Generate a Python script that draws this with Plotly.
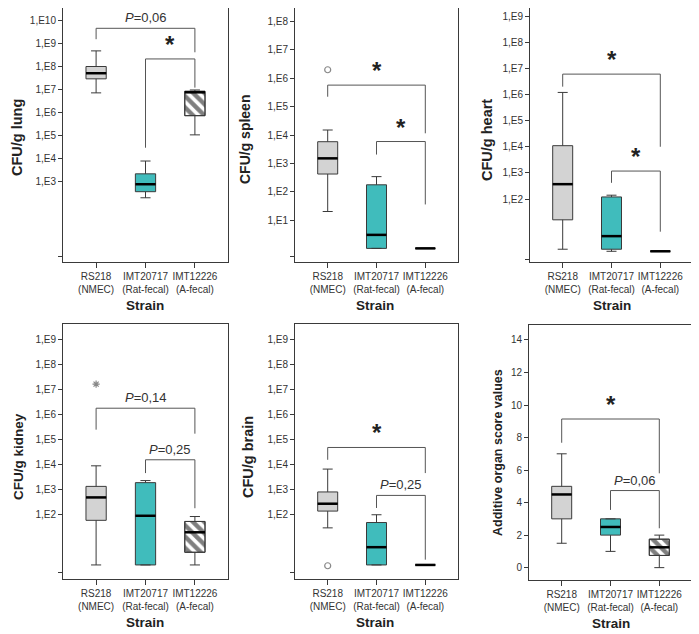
import plotly.graph_objects as go

# The page body adds an 8 px margin, so the figure is drawn 8 px in and
# all reference pixel positions are shifted by OFF.
OFF = 8
W, H = 699 - OFF, 634 - OFF
FONT = "Liberation Sans, Arial, sans-serif"

# ---------------- data ----------------
strain_labels = ["RS218<br>(NMEC)", "IMT20717<br>(Rat-fecal)", "IMT12226<br>(A-fecal)"]
box_colors = ["#d3d3d3", "#40bcbc", "white"]  # third group is hatched

# five-number summaries: [lower whisker, Q1, median, Q3, upper whisker]
lung = [[7.1e6, 2.9e7, 5.1e7, 1.0e8, 4.8e8],
        [190, 350, 740, 2100, 7600],
        [1.05e5, 7.2e5, 7.5e6, 8.3e6, 9.5e6]]
spleen = [[20, 420, 1500, 5800, 15000],
          [1, 1, 3, 175, 340],
          [1, 1, 1, 1, 1]]
heart = [[1.2, 16, 370, 11000, 1.2e6],
         [1, 1.2, 3.8, 120, 140],
         [1, 1, 1, 1, 1]]
kidney = [[1, 60, 490, 1350, 8900],
          [1, 1, 91, 1900, 2300],
          [1, 3.2, 20, 54, 85]]
brain = [[30, 140, 275, 810, 6600],
         [1, 1, 5.1, 49, 100],
         [1, 1, 1, 1, 1]]
score = [[1.5, 3, 4.5, 5, 7],
         [1, 2, 2.5, 3, 3],
         [0, 0.75, 1.25, 1.75, 2]]

# outliers: (group index, value, symbol)
spleen_out = [(0, 2e6, "circle-open")]
kidney_out = [(0, 1.6e7, "asterisk-open")]
brain_out = [(0, 0.93, "circle-open")]

# tick values / labels
lung_tv = [0.5, 1e3, 1e4, 1e5, 1e6, 1e7, 1e8, 1e9, 1e10]
lung_tt = ["", "1,E3", "1,E4", "1,E5", "1,E6", "1,E7", "1,E8", "1,E9", "1,E10"]
spleen_tv = [0.5, 1e1, 1e2, 1e3, 1e4, 1e5, 1e6, 1e7, 1e8]
spleen_tt = ["", "1,E1", "1,E2", "1,E3", "1,E4", "1,E5", "1,E6", "1,E7", "1,E8"]
e29_tv = [0.5, 1e2, 1e3, 1e4, 1e5, 1e6, 1e7, 1e8, 1e9]
e29_tt = ["", "1,E2", "1,E3", "1,E4", "1,E5", "1,E6", "1,E7", "1,E8", "1,E9"]
score_tv = [0, 2, 4, 6, 8, 10, 12, 14]
score_tt = ["0", "2", "4", "6", "8", "10", "12", "14"]

# significance brackets: (left group, right group, bar level, left end, right end, label)
# levels in log10 units for log panels
lung_br = [(0, 2, 9.665, 9.19, 8.62, "<i>P</i>=0,06"), (1, 2, 8.33, 4.46, 7.08, "*")]
spleen_br = [(0, 2, 5.76, 5.35, 4.06, "*"), (1, 2, 3.77, 3.31, 1.55, "*")]
heart_br = [(0, 2, 6.78, 6.30, 4.00, "*"), (1, 2, 3.07, 2.62, 0.75, "*")]
kidney_br = [(0, 2, 6.245, 5.39, 5.23, "<i>P</i>=0,14"), (1, 2, 4.19, 3.66, 2.26, "<i>P</i>=0,25")]
brain_br = [(0, 2, 4.68, 4.19, 3.66, "*"), (1, 2, 2.77, 2.27, 0.21, "<i>P</i>=0,25")]
score_br = [(0, 2, 9.14, 7.68, 5.80, "*"), (1, 2, 4.74, 3.55, 2.42, "<i>P</i>=0,06")]

panels = [
    dict(data=lung, out=[], tv=lung_tv, tt=lung_tt, log=True, rng=[-0.52, 10.55],
         px=(63, 228, 8, 262), title="CFU/g lung", tpos=(17, 138), tsize=14.5,
         spos=(145, 305), br=lung_br, hatch=True),
    dict(data=spleen, out=spleen_out, tv=spleen_tv, tt=spleen_tt, log=True, rng=[-0.48, 8.48],
         px=(295, 458, 8, 262), title="CFU/g spleen", tpos=(245, 140), tsize=14,
         spos=(375, 305), br=spleen_br, hatch=False),
    dict(data=heart, out=[], tv=e29_tv, tt=e29_tt, log=True, rng=[-0.41, 9.31],
         px=(530, 693, 8, 262), title="CFU/g heart", tpos=(487, 140), tsize=14.5,
         spos=(612, 305), br=heart_br, hatch=False),
    dict(data=kidney, out=kidney_out, tv=e29_tv, tt=e29_tt, log=True, rng=[-0.56, 9.6],
         px=(63, 228, 324, 579), title="CFU/g kidney", tpos=(18, 457), tsize=13.5,
         spos=(145, 622), br=kidney_br, hatch=True),
    dict(data=brain, out=brain_out, tv=e29_tv, tt=e29_tt, log=True, rng=[-0.56, 9.6],
         px=(295, 458, 324, 579), title="CFU/g brain", tpos=(248, 457), tsize=14.5,
         spos=(375, 622), br=brain_br, hatch=False),
    dict(data=score, out=[], tv=score_tv, tt=score_tt, log=False, rng=[-0.76, 14.92],
         px=(529, 692, 325, 580), title="Additive organ score values", tpos=(498, 453), tsize=12.5,
         spos=(611, 623), br=score_br, hatch=True),
]

BOXW = 0.41
LINE = "#3a3a3a"


def fx(px):
    return (px - OFF) / W


def fy(py):
    return 1 - (py - OFF) / H


fig = go.Figure()
layout = dict(width=W, height=H, margin=dict(l=0, r=0, t=0, b=0),
              paper_bgcolor="white", plot_bgcolor="white", showlegend=False,
              font=dict(family=FONT, color="#333"))
annotations = []

for k, p in enumerate(panels):
    sfx = "" if k == 0 else str(k + 1)
    xa, ya = "x" + sfx, "y" + sfx
    x0, x1, y0, y1 = p["px"]
    conv = (lambda v: 10 ** v) if p["log"] else (lambda v: v)

    for i, st in enumerate(p["data"]):
        lo, q1, med, q3, hi = st
        hatched = p["hatch"] and i == 2
        if hatched:
            fig.add_trace(go.Bar(x=[i], y=[q3 - q1], base=[q1], width=BOXW,
                                 xaxis=xa, yaxis=ya,
                                 marker=dict(color="white",
                                             line=dict(color=LINE, width=1),
                                             pattern=dict(shape="\\", fgcolor="black",
                                                          bgcolor="white", size=8,
                                                          solidity=0.55)),
                                 hoverinfo="skip"))
        fig.add_trace(go.Box(x=[i], q1=[q1], median=[med], q3=[q3],
                             lowerfence=[lo], upperfence=[hi],
                             width=BOXW, whiskerwidth=0.5,
                             fillcolor="rgba(0,0,0,0)" if hatched else box_colors[i],
                             line=dict(color=LINE, width=1),
                             boxpoints=False, xaxis=xa, yaxis=ya))
        fig.add_trace(go.Scatter(x=[i - BOXW / 2, i + BOXW / 2], y=[med, med],
                                 mode="lines", line=dict(color="black", width=2.5),
                                 xaxis=xa, yaxis=ya, hoverinfo="skip"))
    for gi, val, sym in p["out"]:
        fig.add_trace(go.Scatter(x=[gi], y=[val], mode="markers",
                                 marker=dict(symbol=sym, size=6, color="#888",
                                             line=dict(width=1.2, color="#888")),
                                 xaxis=xa, yaxis=ya))
    for (a, b, lev, le, re, lab) in p["br"]:
        fig.add_trace(go.Scatter(x=[a, a, b, b], y=[conv(le), conv(lev), conv(lev), conv(re)],
                                 mode="lines", line=dict(color="#555", width=1),
                                 xaxis=xa, yaxis=ya, hoverinfo="skip"))
        star = lab == "*"
        annotations.append(dict(
            x=(a + b) / 2, y=lev, xref=xa, yref=ya, showarrow=False,
            text="<b>*</b>" if star else lab,
            font=dict(size=24 if star else 13, color="#222" if star else "#333", family=FONT),
            yanchor="bottom", yshift=-1 if star else 1))

    layout["xaxis" + sfx] = dict(domain=[fx(x0), fx(x1)], anchor=ya, range=[-0.67, 2.67],
                                 tickvals=[0, 1, 2], ticktext=strain_labels, tickangle=0,
                                 ticks="outside", ticklen=5, tickcolor=LINE,
                                 showline=True, mirror=True, linecolor=LINE, linewidth=1,
                                 showgrid=False, zeroline=False,
                                 tickfont=dict(size=10, color="#333", family=FONT))
    layout["yaxis" + sfx] = dict(domain=[fy(y1), fy(y0)], anchor=xa,
                                 type="log" if p["log"] else "linear", range=p["rng"],
                                 tickvals=p["tv"], ticktext=p["tt"],
                                 ticks="outside", ticklen=4, tickcolor=LINE,
                                 showline=True, mirror=True, linecolor=LINE, linewidth=1,
                                 showgrid=False, zeroline=False,
                                 tickfont=dict(size=10, color="#333", family=FONT))
    tx, ty = p["tpos"]
    annotations.append(dict(x=fx(tx), y=fy(ty), xref="paper", yref="paper",
                            text="<b>%s</b>" % p["title"], textangle=-90, showarrow=False,
                            font=dict(size=p["tsize"], color="#222", family=FONT),
                            xanchor="center", yanchor="middle"))
    sx, sy = p["spos"]
    annotations.append(dict(x=fx(sx), y=fy(sy), xref="paper", yref="paper",
                            text="<b>Strain</b>", showarrow=False,
                            font=dict(size=13.5, color="#222", family=FONT),
                            xanchor="center", yanchor="middle"))

layout["annotations"] = annotations
fig.update_layout(**layout)
fig.write_html("out.html")
